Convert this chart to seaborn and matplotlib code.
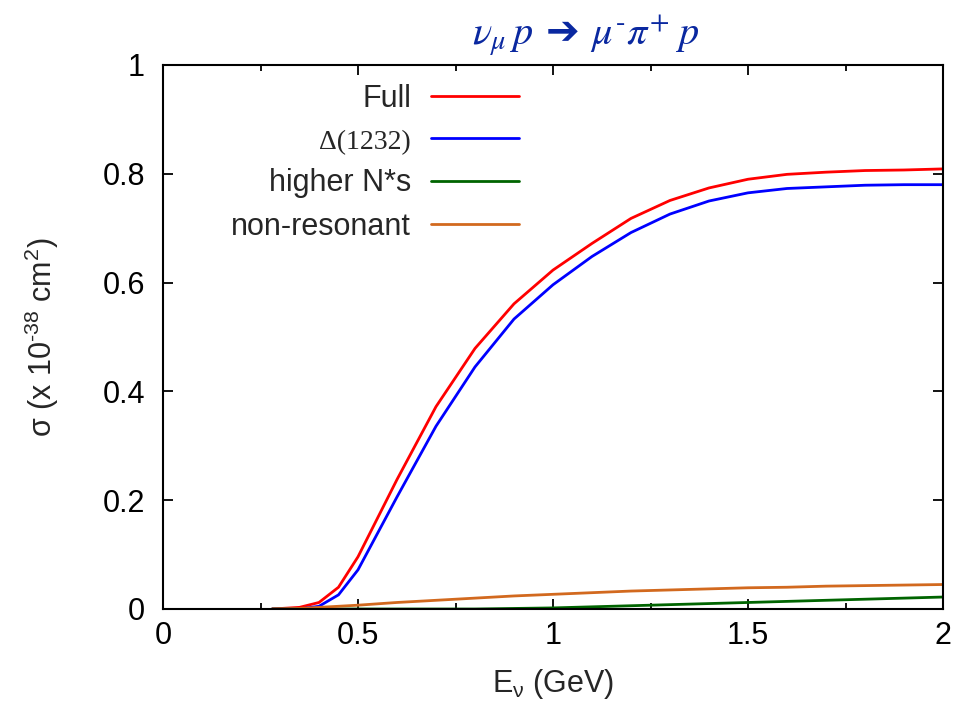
import numpy as np
import pandas as pd
import matplotlib
matplotlib.use("Agg")
import matplotlib.pyplot as plt
from matplotlib.ticker import MultipleLocator, FuncFormatter
import seaborn as sns

energy = [0.28, 0.35, 0.40, 0.45, 0.50, 0.60, 0.70, 0.80, 0.90, 1.00, 1.10,
          1.20, 1.30, 1.40, 1.50, 1.60, 1.70, 1.80, 1.90, 2.00]
full = [0.000, 0.003, 0.012, 0.040, 0.096, 0.238, 0.372, 0.479, 0.561, 0.623,
        0.672, 0.718, 0.751, 0.774, 0.790, 0.799, 0.803, 0.806, 0.807, 0.809]
delta = [0.000, 0.000, 0.005, 0.026, 0.072, 0.206, 0.336, 0.445, 0.533, 0.596,
         0.648, 0.692, 0.726, 0.750, 0.765, 0.773, 0.776, 0.779, 0.780, 0.780]
higher = [0.000, 0.000, 0.000, 0.000, 0.000, 0.000, 0.000, 0.000, 0.001, 0.002,
          0.004, 0.006, 0.008, 0.010, 0.012, 0.014, 0.016, 0.018, 0.020, 0.022]
nonres = [0.000, 0.001, 0.003, 0.005, 0.007, 0.012, 0.016, 0.020, 0.024, 0.027,
          0.030, 0.033, 0.035, 0.037, 0.039, 0.040, 0.042, 0.043, 0.044, 0.045]
labels = ["Full", r"Δ(1232)", "higher N*s", "non-resonant"]
colors = ["#ff0000", "#0000ff", "#006400", "#d2691e"]

df = pd.concat([
    pd.DataFrame({"E": energy, "sigma": vals, "curve": lab})
    for lab, vals in zip(labels, [full, delta, higher, nonres])
])

sns.set_style("ticks")
plt.rcParams["font.family"] = ["Liberation Sans", "DejaVu Sans"]
plt.rcParams["mathtext.fontset"] = "custom"
plt.rcParams["mathtext.rm"] = "Liberation Sans"
plt.rcParams["mathtext.it"] = "Liberation Sans:italic"
plt.rcParams["mathtext.bf"] = "Liberation Sans:bold"

FS = 22
fig = plt.figure(figsize=(9.55, 7.07), dpi=100)
ax = fig.add_axes([163 / 955, 1 - 609 / 707, 780 / 955, 544 / 707])

sns.lineplot(data=df, x="E", y="sigma", hue="curve", hue_order=labels,
             palette=colors, linewidth=2.0, ax=ax, legend=True,
             estimator=None, sort=False)

ax.set_xlim(0, 2)
ax.set_ylim(0, 1)
ax.xaxis.set_major_locator(MultipleLocator(0.5))
ax.xaxis.set_minor_locator(MultipleLocator(0.25))
ax.yaxis.set_major_locator(MultipleLocator(0.2))
fmt = FuncFormatter(lambda v, p: "%g" % v)
ax.xaxis.set_major_formatter(fmt)
ax.yaxis.set_major_formatter(fmt)
ax.tick_params(which="both", direction="in", top=True, right=True,
               labelsize=FS, width=1.3, colors="black")
ax.tick_params(which="major", length=7.5)
ax.tick_params(which="minor", length=4)
ax.tick_params(axis="x", which="major", pad=9)
ax.tick_params(axis="y", which="major", pad=13)
for s in ax.spines.values():
    s.set_linewidth(1.5)
    s.set_color("black")

ax.set_xlabel(r"E$_{\text{ν}}$ (GeV)", fontsize=FS, labelpad=11)
ax.set_ylabel(r"σ (x 10$^{\text{-38}}$ cm$^{2}$)", fontsize=FS, labelpad=30)

leg = ax.legend(loc="upper right", bbox_to_anchor=(0.456, 0.965),
                frameon=False, markerfirst=False, fontsize=FS,
                handlelength=2.87, handletextpad=0.65, labelspacing=0.44,
                borderpad=0, borderaxespad=0)
t1 = leg.get_texts()[1]
t1.set_fontfamily("Liberation Serif")
t1.set_fontsize(20)
for line in leg.get_lines():
    line.set_linewidth(2.0)

fig.text(0.6136, 0.950,
         r"$\nu_{\mu}\,p$ ➔ $\mu^{\text{-}}\pi^{+}\;p$",
         fontsize=29, color="#0a28a0", ha="center", va="center",
         family=["DejaVu Sans"], math_fontfamily="stix")

fig.savefig("out.png", dpi=100)
